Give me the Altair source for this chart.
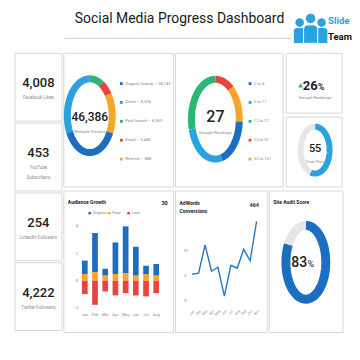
import altair as alt
import pandas as pd

FONT = "Roboto"
DARK = "#222222"
GREY = "#8c8c8c"
CARD = "#d9d9d9"
BLUE = "#1c6ec1"
LBLUE = "#2aa2df"
GREEN = "#2bb673"
RED = "#e8453c"
ORANGE = "#f6a62f"
RING_BG = "#e6e6e6"

# ---------------- data ----------------
title_text = "Social Media Progress Dashboard"
logo_top, logo_bottom = "Slide", "Team"

kpi_values = ["4,008", "453", "254", "4,222"]
kpi_labels = [["Facebook Likes"], ["YouTube", "Subscribers"], ["LinkedIn Followers"], ["Twitter Followers"]]

visitor_total = "46,386"
visitor_caption = "Website Visitors"
visitor_sources = ["Organic Search", "Direct", "Paid Search", "Email", "Referral"]
visitor_counts = ["38,249", "8,536", "8,369", "3,448", "888"]
visitor_ring_order = ["Paid Search", "Email", "Referral", "Organic Search", "Direct"]
visitor_ring_share = [8.6, 6.7, 17.2, 35.0, 32.5]

rank_value = "27"
rank_caption = "Google Rankings"
rank_bins = ["2 to 4", "5 to 11", "12 to 21", "22 to 51", "52 to 101"]
rank_ring_order = ["22 to 51", "52 to 101", "2 to 4", "5 to 11", "12 to 21"]
rank_ring_share = [11, 15, 20, 25, 29]

rank_change = "26"
trust_flow = 55
trust_caption = "Trust Flow"
site_audit = 83

months = ["Jan", "Feb", "Mar", "Apr", "May", "Jun", "Jul", "Aug"]
organic = [0.98, 2.87, 0.49, 2.33, 3.44, 2.11, 0.61, 0.84]
paid = [0.50, 0.64, 0.39, 0.49, 0.56, 0.39, 0.49, 0.39]
lost = [-0.98, -1.77, -0.79, -1.08, -0.91, -1.08, -1.15, -0.91]
audience_series = ["Organic", "Paid", "Lost"]
audience_ticks = [-2, 0, 2, 4]
audience_badge = "30"

adwords_periods = ["Jan", "Feb", "Mar", "Apr", "May", "Jun", "Jul", "Aug", "Sep", "Oct", "Nov"]
adwords_values = [5.3, 5.5, 11.2, 5.9, 6.7, 0.9, 7.1, 6.5, 10.3, 8.0, 15.9]
adwords_ticks = [0, 5, 10]
adwords_badge = "464"

one = pd.DataFrame({"a": [0]})

# ---------------- helpers (ox, oy = panel origin) ----------------
def txt(value, ox, oy, x, y, size, color=DARK, weight="normal", align="center", baseline="middle"):
    return alt.Chart(pd.DataFrame({"t": [value]})).mark_text(
        x=ox + x, y=oy + y, fontSize=size, color=color, fontWeight=weight, align=align,
        baseline=baseline, font=FONT
    ).encode(text="t:N")


def card(ox, oy, w, h):
    return alt.Chart(one).mark_rect(fill="white", stroke=CARD, strokeWidth=1).encode(
        x=alt.value(ox), x2=alt.value(ox + w), y=alt.value(oy), y2=alt.value(oy + h))


def ring(cats, shares, domain, rng, ox, oy, cx, cy, rx, ry, sw, n=60):
    cx, cy = ox + cx, oy + cy
    df = pd.DataFrame({"seg": cats, "share": shares, "k": list(range(len(cats)))})
    return alt.Chart(df).transform_joinaggregate(
        total="sum(share)"
    ).transform_window(
        cum="sum(share)", sort=[alt.SortField("k", order="ascending")], frame=[None, 0]
    ).transform_calculate(
        start="datum.cum - datum.share"
    ).transform_calculate(
        steps=f"sequence(0, {n + 1})"
    ).transform_flatten(
        ["steps"], as_=["step"]
    ).transform_calculate(
        ang=f"2*PI*(datum.start + datum.share*datum.step/{n})/datum.total"
    ).transform_calculate(
        px="sin(datum.ang)"
    ).transform_calculate(
        py="cos(datum.ang)"
    ).mark_line(strokeWidth=sw, strokeCap="butt").encode(
        x=alt.X("px:Q", scale=alt.Scale(domain=[-1, 1], range=[cx - rx, cx + rx], nice=False, zero=False), axis=None),
        y=alt.Y("py:Q", scale=alt.Scale(domain=[-1, 1], range=[cy + ry, cy - ry], nice=False, zero=False), axis=None),
        color=alt.Color("seg:N", scale=alt.Scale(domain=domain, range=rng), legend=None),
        detail="seg:N",
        order="step:Q",
    )


def legend_layers(cats, labels, rng, ox, oy, x_dot, x_txt, y0, y1):
    df = pd.DataFrame({"seg": cats, "lab": labels})
    ys = alt.Y("seg:N", scale=alt.Scale(type="point", domain=cats, range=[oy + y0, oy + y1], padding=0), axis=None)
    dots = alt.Chart(df).mark_square(size=8, x=ox + x_dot, opacity=1).encode(
        y=ys, color=alt.Color("seg:N", scale=alt.Scale(domain=cats, range=rng), legend=None))
    labs = alt.Chart(df).mark_text(x=ox + x_txt, align="left", baseline="middle", fontSize=4.2,
                                   color=GREY, font=FONT).encode(y=ys, text="lab:N")
    return [dots, labs]


layers = []

# ---------------- header (origin 7,0) ----------------
HX, HY = 7, 0
PERSON = ("M-0.34,-0.62 A0.34,0.34 0 1,0 0.34,-0.62 A0.34,0.34 0 1,0 -0.34,-0.62 Z "
          "M-0.46,1 L-0.46,0.05 Q-0.46,-0.2 -0.2,-0.2 L0.2,-0.2 Q0.46,-0.2 0.46,0.05 L0.46,1 Z")
layers += [
    txt(title_text, HX, HY, 165, 11, 14, color="#1a1a1a"),
    alt.Chart(one).mark_rule(color="#cfcfcf", strokeWidth=1).encode(
        x=alt.value(HX + 50), x2=alt.value(HX + 277), y=alt.value(HY + 30)),
    alt.Chart(one).mark_point(shape=PERSON, filled=True, size=640, color=LBLUE, opacity=1).encode(
        x=alt.value(HX + 285.5), y=alt.value(HY + 22)),
    alt.Chart(one).mark_point(shape=PERSON, filled=True, size=640, color=LBLUE, opacity=1).encode(
        x=alt.value(HX + 307.5), y=alt.value(HY + 22)),
    alt.Chart(one).mark_point(shape=PERSON, filled=True, size=950, color=LBLUE, opacity=1,
                              stroke="white", strokeWidth=1).encode(x=alt.value(HX + 296.5), y=alt.value(HY + 19.5)),
    txt(logo_top, HX, HY, 314, 12.5, 9.5, color=LBLUE, weight="bold", align="left"),
    txt(logo_bottom, HX, HY, 314, 28.5, 9.5, color="#111111", weight="bold", align="left"),
]

# ---------------- left KPI cards ----------------
for i, (val, labs) in enumerate(zip(kpi_values, kpi_labels)):
    ox, oy = 7, 45 + 70 * i
    layers.append(card(ox, oy, 47, 68))
    layers.append(txt(val, ox, oy, 23.5, 30, 13, weight=500))
    for j, l in enumerate(labs):
        layers.append(txt(l, ox, oy, 23.5, 45 + 9.5 * j, 4.5, color=GREY))

# ---------------- website visitors donut ----------------
ox, oy = 56, 45
vis_colors = [BLUE, LBLUE, GREEN, RED, ORANGE]
vis_labels = [f"{s} \u2013 {c}" for s, c in zip(visitor_sources, visitor_counts)]
layers += [
    card(ox, oy, 110, 134),
    ring(visitor_ring_order, visitor_ring_share, visitor_sources, vis_colors, ox, oy, 26, 62.5, 22.5, 37, 7),
    *legend_layers(visitor_sources, vis_labels, vis_colors, ox, oy, 57.7, 61.5, 30.3, 106),
    txt(visitor_total, ox, oy, 26, 64, 12, weight=500),
    txt(visitor_caption, ox, oy, 26, 78.5, 4.4, color=GREY),
]

# ---------------- google rankings donut ----------------
ox, oy = 168, 45
rank_colors = [BLUE, LBLUE, GREEN, RED, ORANGE]
layers += [
    card(ox, oy, 108, 134),
    ring(rank_ring_order, rank_ring_share, rank_bins, rank_colors, ox, oy, 40, 66, 24, 40, 7),
    *legend_layers(rank_bins, rank_bins, rank_colors, ox, oy, 74.7, 78.5, 30.3, 106),
    txt(rank_value, ox, oy, 40, 64, 16, weight=500),
    txt(rank_caption, ox, oy, 40, 79.5, 4.4, color=GREY),
]

# ---------------- right small cards ----------------
ox, oy = 279, 45
layers += [
    card(ox, oy, 56, 60),
    alt.Chart(one).mark_point(shape="triangle-up", filled=True, size=24, color=GREEN, opacity=1).encode(
        x=alt.value(ox + 14.5), y=alt.value(oy + 32)),
    txt(rank_change, ox, oy, 31.5, 36.5, 13, weight="bold", align="right", baseline="alphabetic"),
    txt("%", ox, oy, 31.8, 36.5, 8.5, weight="bold", align="left", baseline="alphabetic"),
    txt(rank_caption, ox, oy, 29, 45, 4.4, color=GREY),
]
ox, oy = 279, 109
layers += [
    card(ox, oy, 56, 70),
    ring(["flow", "rest"], [trust_flow, 100 - trust_flow], ["flow", "rest"], [LBLUE, RING_BG],
         ox, oy, 29, 33, 14.5, 23.5, 6),
    txt(str(trust_flow), ox, oy, 29, 32, 11, weight=500),
    txt(trust_caption, ox, oy, 29, 45, 4.2, color=GREY),
]

# ---------------- audience growth ----------------
ox, oy = 56, 183
rows = []
for m, o, p, l in zip(months, organic, paid, lost):
    rows.append({"month": m, "series": "Paid", "val": p, "ord": 0})
    rows.append({"month": m, "series": "Organic", "val": o, "ord": 1})
    rows.append({"month": m, "series": "Lost", "val": l, "ord": 2})
aud_df = pd.DataFrame(rows)
aud_x = alt.Scale(domain=months, range=[ox + 15.9, ox + 97.8], paddingInner=0.44, paddingOuter=0.22)
aud_y = alt.Scale(domain=[-2, 4], range=[oy + 117.3, oy + 35.5], nice=False, zero=False)
aud_color = alt.Scale(domain=audience_series, range=[BLUE, ORANGE, RED])
leg_df = pd.DataFrame({"series": audience_series})
leg_x = alt.X("series:N", scale=alt.Scale(type="point", domain=audience_series,
                                          range=[ox + 26, ox + 65], padding=0), axis=None)
layers += [
    card(ox, oy, 110, 142),
    alt.Chart(aud_df).mark_bar().encode(
        x=alt.X("month:N", sort=months, scale=aud_x, axis=None),
        y=alt.Y("val:Q", stack="zero", scale=aud_y, axis=None),
        color=alt.Color("series:N", scale=aud_color, legend=None),
        order=alt.Order("ord:Q"),
    ),
    alt.Chart(pd.DataFrame({"month": months})).mark_text(
        fontSize=4, color=GREY, font=FONT, baseline="middle", y=oy + 124).encode(
        x=alt.X("month:N", sort=months, scale=aud_x, axis=None), text="month:N"),
    alt.Chart(pd.DataFrame({"val": audience_ticks})).mark_text(
        fontSize=4.4, color=GREY, font=FONT, align="right", baseline="middle", x=ox + 14.5).encode(
        y=alt.Y("val:Q", scale=aud_y, axis=None), text="val:Q"),
    alt.Chart(leg_df).mark_circle(size=8, y=oy + 22.3, opacity=1).encode(
        x=leg_x, color=alt.Color("series:N", scale=aud_color, legend=None)),
    alt.Chart(leg_df).mark_text(fontSize=4.2, color=GREY, font=FONT, align="left",
                                baseline="middle", dx=3, y=oy + 22.3).encode(x=leg_x, text="series:N"),
    txt("Audience Growth", ox, oy, 4, 11.5, 5, weight="bold", align="left"),
    txt(audience_badge, ox, oy, 101, 12, 5.5, weight="bold"),
]

# ---------------- adwords conversions ----------------
ox, oy = 168, 183
adw_x = alt.Scale(type="point", domain=adwords_periods, range=[ox + 16.7, ox + 81.3], padding=0)
adw_y = alt.Scale(domain=[0, 20], range=[oy + 110, oy + 10], nice=False, zero=False)
layers += [
    card(ox, oy, 92, 142),
    alt.Chart(pd.DataFrame({"p": adwords_periods, "v": adwords_values})).mark_line(
        color="#2677bd", strokeWidth=1.4).encode(
        x=alt.X("p:N", sort=adwords_periods, scale=adw_x, axis=None),
        y=alt.Y("v:Q", scale=adw_y, axis=None)),
    alt.Chart(pd.DataFrame({"p": adwords_periods})).mark_text(
        fontSize=3.6, color=GREY, font=FONT, angle=315, y=oy + 122, baseline="middle").encode(
        x=alt.X("p:N", sort=adwords_periods, scale=adw_x, axis=None), text="p:N"),
    alt.Chart(pd.DataFrame({"v": adwords_ticks})).mark_text(
        fontSize=4.2, color=GREY, font=FONT, x=ox + 10, baseline="middle").encode(
        y=alt.Y("v:Q", scale=adw_y, axis=None), text="v:Q"),
    txt("AdWords", ox, oy, 4, 12, 5, weight="bold", align="left"),
    txt("Conversions", ox, oy, 4, 20.5, 5, weight="bold", align="left"),
    txt(adwords_badge, ox, oy, 79, 14, 5.5, weight="bold"),
]

# ---------------- site audit ----------------
ox, oy = 262, 183
layers += [
    card(ox, oy, 74, 142),
    ring(["score", "rest"], [site_audit, 100 - site_audit], ["score", "rest"], [BLUE, RING_BG],
         ox, oy, 36.7, 71.5, 20, 37, 9),
    txt(str(site_audit), ox, oy, 38, 76, 14, weight=500, align="right", baseline="alphabetic"),
    txt("%", ox, oy, 38.3, 76, 9, align="left", baseline="alphabetic"),
    txt("Site Audit Score", ox, oy, 4, 11, 5, weight="bold", align="left"),
]

chart = alt.layer(*layers).resolve_scale(
    x="independent", y="independent", color="independent"
).properties(
    width=344, height=344, padding=0
).configure(
    font=FONT,
    view=alt.ViewConfig(strokeOpacity=0),
)

chart.save("out.html", embed_options={"renderer": "svg", "actions": False})
